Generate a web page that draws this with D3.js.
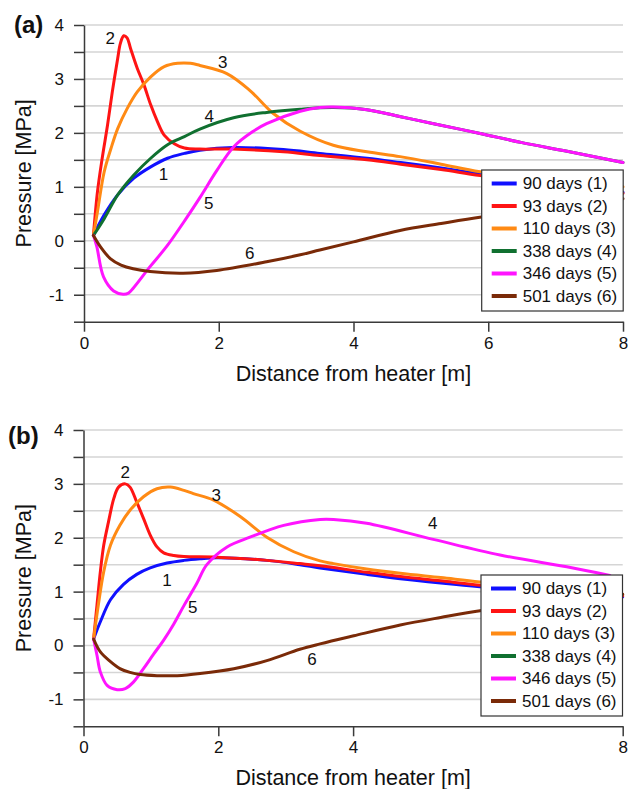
<!DOCTYPE html>
<html>
<head>
<meta charset="utf-8">
<script src="https://cdn.jsdelivr.net/npm/d3@7"></script>
<style>
  html, body { margin: 0; padding: 0; background: #fff; }
  svg { display: block; font-family: "Liberation Sans", Arial, Helvetica, sans-serif; }
</style>
</head>
<body>
<svg id="chart" width="628" height="789"></svg>
<script>
// ---- Series metadata ----
const seriesNames = ["90 days (1)", "93 days (2)", "110 days (3)", "338 days (4)", "346 days (5)", "501 days (6)"];
const curveTags = ["1", "2", "3", "4", "5", "6"];

// ---- Axis ticks ----
const pressureTicks = [-1.5, -1, -0.5, 0, 0.5, 1, 1.5, 2, 2.5, 3, 3.5, 4];
const distanceTicksA = [0, 2, 4, 6, 8];
const distanceTicksB = [0, 2, 4, 8];

// ---- Panel (a): [distance m, pressure MPa] ----
const a90 = [[0.14,0.10],[0.30,0.48],[0.50,0.85],[0.74,1.16],[0.99,1.37],[1.24,1.53],[1.49,1.62],[1.72,1.68],[2.22,1.73],[2.96,1.69],[3.5,1.62],[4.2,1.53],[4.7,1.45],[5.3,1.35],[5.88,1.24],[7.0,1.05],[8.0,0.90]];
const a93 = [[0.14,0.10],[0.20,0.91],[0.27,1.53],[0.35,2.15],[0.42,2.76],[0.50,3.38],[0.54,3.66],[0.59,3.80],[0.64,3.76],[0.69,3.57],[0.79,3.20],[0.89,2.89],[0.99,2.52],[1.09,2.21],[1.19,1.96],[1.34,1.80],[1.49,1.72],[1.72,1.70],[2.21,1.70],[2.96,1.65],[3.5,1.58],[4.2,1.50],[4.7,1.42],[5.3,1.32],[5.88,1.21],[7.0,1.03],[8.0,0.88]];
const a110 = [[0.14,0.10],[0.20,0.54],[0.30,1.28],[0.40,1.71],[0.50,2.08],[0.64,2.45],[0.79,2.76],[0.99,3.04],[1.19,3.23],[1.39,3.29],[1.58,3.29],[1.72,3.25],[2.12,3.10],[2.46,2.79],[2.81,2.36],[3.21,2.03],[3.7,1.77],[4.2,1.65],[4.69,1.56],[5.3,1.42],[5.88,1.28],[7.0,1.12],[8.0,1.00]];
const a338 = [[0.14,0.10],[0.30,0.41],[0.50,0.85],[0.74,1.22],[0.99,1.53],[1.24,1.78],[1.49,1.93],[1.72,2.07],[2.22,2.28],[2.71,2.38],[3.21,2.44],[3.7,2.47],[4.2,2.43],[4.7,2.30],[5.19,2.17],[5.88,1.99],[6.5,1.82],[7.17,1.66],[8.0,1.45]];
const a346 = [[0.14,0.10],[0.19,-0.11],[0.29,-0.67],[0.44,-0.93],[0.58,-0.99],[0.66,-0.97],[0.73,-0.88],[0.98,-0.48],[1.23,-0.10],[1.52,0.42],[1.72,0.80],[1.97,1.30],[2.22,1.74],[2.5,2.02],[2.71,2.17],[3.21,2.40],[3.5,2.47],[3.7,2.48],[4.2,2.43],[4.7,2.30],[5.19,2.17],[5.88,1.99],[6.5,1.82],[7.17,1.66],[8.0,1.45]];
const a501 = [[0.14,0.10],[0.25,-0.12],[0.39,-0.33],[0.55,-0.45],[0.73,-0.52],[0.98,-0.57],[1.47,-0.60],[1.97,-0.55],[2.71,-0.39],[3.21,-0.26],[3.5,-0.17],[4.0,-0.02],[4.69,0.19],[5.3,0.32],[5.90,0.44],[7.0,0.62],[8.0,0.78]];
// curve tag anchors [distance, pressure] in the order of curveTags
const aTagAt = [[1.18,1.22],[0.39,3.75],[2.06,3.30],[1.86,2.30],[1.85,0.70],[2.46,-0.23]];

// ---- Panel (b) ----
const b90 = [[0.15,0.12],[0.25,0.44],[0.40,0.85],[0.59,1.13],[0.79,1.32],[0.99,1.44],[1.24,1.53],[1.49,1.58],[1.73,1.61],[1.98,1.63],[2.72,1.58],[3.21,1.50],[3.51,1.44],[4.2,1.32],[4.70,1.24],[5.3,1.16],[5.88,1.09],[7.0,0.98],[8.0,0.90]];
const b93 = [[0.15,0.12],[0.20,0.75],[0.25,1.37],[0.30,1.86],[0.37,2.29],[0.45,2.73],[0.52,2.94],[0.62,3.00],[0.69,2.94],[0.79,2.66],[0.89,2.36],[0.99,2.05],[1.09,1.83],[1.19,1.72],[1.34,1.67],[1.49,1.65],[1.98,1.64],[2.72,1.58],[3.21,1.52],[3.51,1.48],[4.2,1.36],[4.70,1.28],[5.3,1.20],[5.88,1.12],[7.0,1.00],[8.0,0.92]];
const b110 = [[0.15,0.12],[0.22,0.75],[0.30,1.37],[0.40,1.86],[0.54,2.23],[0.69,2.51],[0.89,2.76],[1.09,2.91],[1.29,2.94],[1.49,2.88],[1.63,2.82],[1.93,2.70],[2.33,2.39],[2.72,2.01],[3.12,1.74],[3.51,1.57],[3.71,1.52],[4.2,1.42],[4.70,1.34],[5.3,1.26],[5.88,1.18],[7.0,1.05],[8.0,0.95]];
const b338 = []; // coincides with the 346-day profile in this case
const b346 = [[0.15,0.12],[0.20,-0.18],[0.25,-0.49],[0.35,-0.74],[0.50,-0.82],[0.62,-0.80],[0.74,-0.68],[0.89,-0.43],[1.04,-0.16],[1.19,0.10],[1.34,0.40],[1.49,0.74],[1.68,1.15],[1.83,1.50],[2.13,1.83],[2.47,2.01],[2.97,2.23],[3.51,2.34],[3.71,2.34],[4.20,2.27],[5.19,1.97],[6.18,1.68],[7.17,1.46],[7.81,1.30]];
const b501 = [[0.15,0.12],[0.25,-0.12],[0.40,-0.30],[0.54,-0.43],[0.69,-0.50],[0.84,-0.54],[1.09,-0.56],[1.39,-0.56],[1.73,-0.52],[2.23,-0.43],[2.72,-0.28],[3.21,-0.07],[3.51,0.03],[4.01,0.18],[4.70,0.38],[5.3,0.52],[5.91,0.65],[7.0,0.82],[8.0,0.95]];
const bTagAt = [[1.24,1.21],[0.62,3.22],[1.97,2.78],[5.18,2.26],[1.62,0.70],[3.39,-0.26]];

// ---- Styles ----
const colors = ["#1010ff", "#ff1414", "#ff8a14", "#107030", "#ff14ff", "#7a2a08"];
const FONT = "Liberation Sans, Arial, sans-serif";

const svg = d3.select("#chart");

function drawPanel(opt) {
  const x = d3.scaleLinear().domain([0, 8]).range([opt.left, opt.right]);
  const y = d3.scaleLinear().domain([-1.5, 4]).range([opt.bottom, opt.top]);
  const g = svg.append("g");

  // horizontal grid
  g.append("g").selectAll("line")
    .data(pressureTicks.filter(v => v > -1.5))
    .join("line")
    .attr("x1", x(0)).attr("x2", x(8))
    .attr("y1", d => y(d)).attr("y2", d => y(d))
    .attr("stroke", "#d5d5d5").attr("stroke-width", 1.6);

  // y axis
  const yAxis = d3.axisLeft(y).tickValues(pressureTicks)
    .tickFormat(d => Number.isInteger(d) ? String(d) : "")
    .tickSize(10).tickSizeOuter(0).tickPadding(10);
  const ya = g.append("g").attr("transform", `translate(${x(0)},0)`).call(yAxis);

  // x axis
  const xAxis = d3.axisBottom(x).tickValues(opt.xTicks)
    .tickFormat(d => String(d)).tickSize(10).tickSizeOuter(0).tickPadding(5);
  const xa = g.append("g").attr("transform", `translate(0,${y(-1.5)})`).call(xAxis);

  [ya, xa].forEach(a => {
    a.select(".domain").attr("stroke", "#3a3a3a").attr("stroke-width", 1.5);
    a.selectAll(".tick line").attr("stroke", "#3a3a3a").attr("stroke-width", 1.5);
    a.selectAll(".tick text").attr("font-size", 17).attr("font-family", FONT).attr("fill", "#111");
  });

  // profiles
  const line = d3.line()
    .x(d => x(d[0])).y(d => y(d[1]))
    .curve(d3.curveCatmullRom.alpha(0.5));
  opt.series.forEach((s, i) => {
    if (!s.length) return;
    g.append("path").datum(s)
      .attr("fill", "none")
      .attr("stroke", colors[i])
      .attr("stroke-width", 3)
      .attr("stroke-linejoin", "round")
      .attr("stroke-linecap", "round")
      .attr("d", line);
  });

  // curve numbers
  g.append("g").selectAll("text")
    .data(opt.tags)
    .join("text")
    .attr("x", d => x(d[0])).attr("y", d => y(d[1]))
    .attr("text-anchor", "middle").attr("dominant-baseline", "central")
    .attr("font-size", 17).attr("font-family", FONT).attr("fill", "#111")
    .text((d, i) => curveTags[i]);

  // legend
  const lg = g.append("g").attr("transform", `translate(${opt.legX},${opt.legY})`);
  lg.append("rect").attr("width", 141.5).attr("height", 141)
    .attr("fill", "#fff").attr("stroke", "#333").attr("stroke-width", 1.2);
  seriesNames.forEach((name, i) => {
    const cy = 13.5 + i * 22.5;
    lg.append("line").attr("x1", 10).attr("x2", 35).attr("y1", cy).attr("y2", cy)
      .attr("stroke", colors[i]).attr("stroke-width", 4);
    lg.append("text").attr("x", 41).attr("y", cy)
      .attr("dominant-baseline", "central")
      .attr("font-size", 17).attr("font-family", FONT).attr("fill", "#111")
      .text(name);
  });

  // axis titles
  g.append("text")
    .attr("transform", `translate(30.5,${(opt.top + opt.bottom) / 2}) rotate(-90)`)
    .attr("text-anchor", "middle")
    .attr("font-size", 21.5).attr("font-family", FONT).attr("fill", "#111")
    .text("Pressure [MPa]");
  g.append("text")
    .attr("x", (opt.left + opt.right) / 2).attr("y", opt.bottom + 59)
    .attr("text-anchor", "middle")
    .attr("font-size", 21.5).attr("font-family", FONT).attr("fill", "#111")
    .text("Distance from heater [m]");

  // panel tag
  g.append("text")
    .attr("x", opt.tagX).attr("y", opt.tagY)
    .attr("font-size", 24).attr("font-weight", "bold").attr("font-family", FONT).attr("fill", "#111")
    .text(opt.tag);
}

drawPanel({
  left: 84, right: 623, top: 25, bottom: 321.7,
  xTicks: distanceTicksA,
  series: [a90, a93, a110, a338, a346, a501],
  tags: aTagAt,
  legX: 481.7, legY: 170,
  tag: "(a)", tagX: 14, tagY: 33
});

drawPanel({
  left: 83.5, right: 622.7, top: 430, bottom: 726.3,
  xTicks: distanceTicksB,
  series: [b90, b93, b110, b338, b346, b501],
  tags: bTagAt,
  legX: 481, legY: 575,
  tag: "(b)", tagX: 8, tagY: 444
});
</script>
</body>
</html>
